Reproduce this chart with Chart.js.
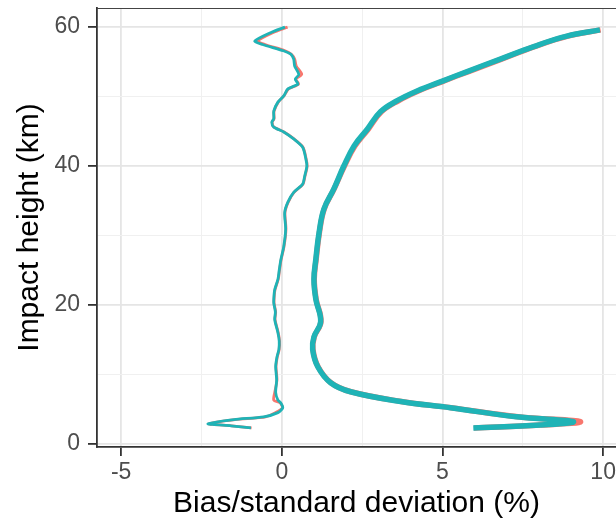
<!DOCTYPE html>
<html>
<head>
<meta charset="utf-8">
<script src="https://cdn.jsdelivr.net/npm/chart.js@4"></script>
<style>
  body { margin: 0; background: #fff; }
  #wrap { width: 616px; height: 522px; }
</style>
</head>
<body>
<div id="wrap"><canvas id="chart" width="616" height="522"></canvas></div>
<script>
// === DATA ===
// bias profile (thin line): impact height (km) and value (%)
const biasHeight = [60.0, 59.2, 58.0, 57.5, 56.6, 56.1, 55.4, 54.4, 53.2, 52.5, 51.8, 51.1, 50.1, 49.2, 47.9, 46.8, 46.3, 45.6, 44.9, 43.9, 42.7, 41.0, 40.0, 38.5, 37.4, 36.2, 34.8, 33.3, 30.9, 28.4, 26.5, 25.0, 23.7, 22.2, 21.5, 20.3, 19.0, 17.9, 16.0, 14.8, 13.6, 12.5, 11.1, 9.2, 7.4, 6.3, 5.9, 5.2, 4.5, 3.9, 3.5, 2.9, 2.6, 2.3];
const biasTeal   = [0.10, -0.35, -0.84, -0.60, 0.05, 0.28, 0.37, 0.40, 0.53, 0.42, 0.50, 0.19, 0.06, -0.12, -0.25, -0.25, -0.31, -0.25, 0.06, 0.37, 0.65, 0.75, 0.78, 0.71, 0.65, 0.37, 0.19, 0.09, 0.12, 0.06, -0.03, -0.08, -0.12, -0.22, -0.24, -0.25, -0.20, -0.22, -0.12, -0.08, -0.09, -0.15, -0.19, -0.16, -0.19, -0.12, -0.03, 0.03, -0.12, -0.56, -1.49, -2.30, -1.58, -0.96];
const biasRed    = [0.18, -0.28, -0.75, -0.52, 0.10, 0.30, 0.40, 0.45, 0.62, 0.44, 0.52, 0.21, 0.07, -0.11, -0.24, -0.24, -0.30, -0.24, 0.07, 0.38, 0.66, 0.76, 0.79, 0.72, 0.66, 0.38, 0.20, 0.10, 0.13, 0.07, -0.02, -0.07, -0.11, -0.21, -0.23, -0.24, -0.19, -0.21, -0.11, -0.07, -0.08, -0.14, -0.18, -0.15, -0.22, -0.25, -0.05, 0.02, -0.20, -0.50, -1.45, -2.28, -1.56, -0.94];

// standard deviation profile (thick line)
const sdHeight = [59.6, 58.7, 57.2, 55.4, 53.6, 52.3, 50.8, 49.4, 47.8, 45.3, 42.9, 40.0, 36.7, 33.8, 30.4, 26.6, 23.7, 20.8, 17.6, 15.4, 13.6, 11.1, 8.8, 7.5, 6.1, 5.2, 3.9, 3.2, 2.7, 2.3];
const sdTeal   = [9.90, 8.87, 7.84, 6.80, 5.77, 5.04, 4.21, 3.59, 3.07, 2.66, 2.25, 1.93, 1.62, 1.31, 1.16, 1.06, 1.00, 1.06, 1.21, 1.00, 0.96, 1.12, 1.52, 2.14, 3.70, 5.25, 7.30, 9.07, 8.04, 5.96];
const sdRed    = [9.92, 8.90, 7.87, 6.84, 5.81, 5.07, 4.25, 3.63, 3.10, 2.69, 2.28, 1.95, 1.63, 1.32, 1.17, 1.07, 1.01, 1.07, 1.22, 1.01, 0.97, 1.13, 1.53, 2.15, 3.72, 5.27, 7.35, 9.29, 8.06, 5.98];

const xMajor = [-5, 0, 5, 10];
const xMinor = [-2.5, 2.5, 7.5];
const yMajor = [0, 20, 40, 60];
const yMinor = [10, 30, 50];

const RED = "#F8766D";
const TEAL = "#1FB3B6";

const toPoints = (hs, vs) => hs.map((h, i) => ({ x: vs[i], y: h }));

// top edge of the panel border
const panelTop = {
  id: "panelTop",
  afterDraw(chart) {
    const { ctx, chartArea: a } = chart;
    ctx.save();
    ctx.strokeStyle = "#444";
    ctx.lineWidth = 1.2;
    ctx.beginPath();
    ctx.moveTo(a.left, a.top + 0.5);
    ctx.lineTo(a.right, a.top + 0.5);
    ctx.stroke();
    ctx.restore();
  }
};

const line = (data, color, width, tension) => ({
  data, borderColor: color, borderWidth: width, pointRadius: 0, showLine: true,
  tension, borderJoinStyle: "round", borderCapStyle: "butt", fill: false
});

new Chart(document.getElementById("chart"), {
  type: "scatter",
  data: {
    datasets: [
      line(toPoints(biasHeight, biasTeal), TEAL, 2.8, 0.25),
      line(toPoints(biasHeight, biasRed), RED, 2.8, 0.25),
      line(toPoints(sdHeight, sdTeal), TEAL, 5.5, 0.4),
      line(toPoints(sdHeight, sdRed), RED, 5.5, 0.4)
    ]
  },
  options: {
    responsive: false,
    animation: false,
    layout: { padding: { top: 8, right: 0, bottom: 0, left: 0 } },
    plugins: { legend: { display: false }, tooltip: { enabled: false } },
    scales: {
      x: {
        type: "linear", min: -5.75, max: 10.4,
        afterBuildTicks: s => { s.ticks = [...xMajor, ...xMinor].sort((a, b) => a - b).map(v => ({ value: v })); },
        afterFit: s => { s.height = 75; s.paddingLeft = 0; s.paddingRight = 0; },
        ticks: {
          autoSkip: false, maxRotation: 0, padding: 3, color: "#4D4D4D",
          font: { family: "Liberation Sans", size: 23 },
          callback: v => xMajor.includes(v) ? String(v) : ""
        },
        grid: {
          color: c => xMajor.includes(c.tick.value) ? "#E5E5E5" : "#F0F0F0",
          lineWidth: c => xMajor.includes(c.tick.value) ? 1.8 : 1,
          tickColor: c => xMajor.includes(c.tick.value) ? "#333" : "rgba(0,0,0,0)",
          tickLength: 9, tickWidth: 1.8
        },
        border: { display: true, color: "#333", width: 1.8 },
        title: {
          display: true, text: "Bias/standard deviation (%)", color: "#000",
          font: { family: "Liberation Sans", size: 30 }, padding: { top: 0, bottom: 0 }
        }
      },
      y: {
        type: "linear", min: -0.45, max: 62.75,
        afterBuildTicks: s => { s.ticks = [...yMajor, ...yMinor].sort((a, b) => a - b).map(v => ({ value: v })); },
        afterFit: s => { s.width = 97; s.paddingTop = 0; s.paddingBottom = 0; },
        ticks: {
          autoSkip: false, padding: 8, color: "#4D4D4D",
          font: { family: "Liberation Sans", size: 23 },
          callback: v => yMajor.includes(v) ? String(v) : ""
        },
        grid: {
          color: c => yMajor.includes(c.tick.value) ? "#E5E5E5" : "#F0F0F0",
          lineWidth: c => yMajor.includes(c.tick.value) ? 1.8 : 1,
          tickColor: c => yMajor.includes(c.tick.value) ? "#333" : "rgba(0,0,0,0)",
          tickLength: 9, tickWidth: 1.8
        },
        border: { display: true, color: "#333", width: 1.8 },
        title: {
          display: true, text: "Impact height (km)", color: "#000",
          font: { family: "Liberation Sans", size: 30 }, padding: { top: 12, bottom: 0 }
        }
      }
    }
  },
  plugins: [panelTop]
});
</script>
</body>
</html>
